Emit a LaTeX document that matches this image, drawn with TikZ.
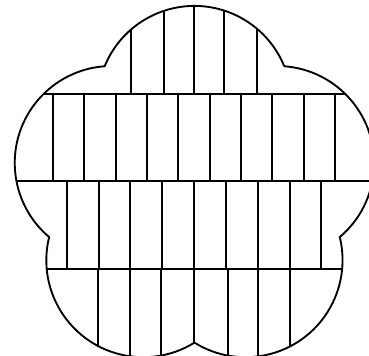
\documentclass[tikz,border=0pt]{standalone}
\begin{document}
\begin{tikzpicture}[x=0.75pt,y=0.75pt,line width=1.4pt,
  flower/.style={insert path={(284.25,-66.26)
    arc[start angle=22.2,end angle=157.8,radius=97]
    arc[start angle=94.2,end angle=229.8,radius=97]
    arc[start angle=166.2,end angle=301.8,radius=97]
    arc[start angle=238.2,end angle=373.8,radius=97]
    arc[start angle=310.2,end angle=445.8,radius=97] -- cycle}},
  hatch/.style={line width=1.4pt}]
\useasboundingbox (0,-356) rectangle (369,0);
\clip (0,-356) rectangle (369,0);
\begin{scope}
  \clip[flower];
  \foreach \y in {94,181,269} \draw[hatch] (0,-\y) -- (369,-\y);
  \foreach \x in {131,164,194,224,257} \draw[hatch] (\x,0) -- (\x,-94);
  \foreach \x in {53,84,116,147,178,210,241,272,304,335} \draw[hatch] (\x,-94) -- (\x,-181);
  \foreach \x in {67,99,130,162,194,226,258,290,321} \draw[hatch] (\x,-181) -- (\x,-269);
  \foreach \x in {98,130,161,194,228,258,290} \draw[hatch] (\x,-269) -- (\x,-360);
\end{scope}
\draw[line width=1.4pt,line join=miter] [flower];
\end{tikzpicture}
\end{document}
